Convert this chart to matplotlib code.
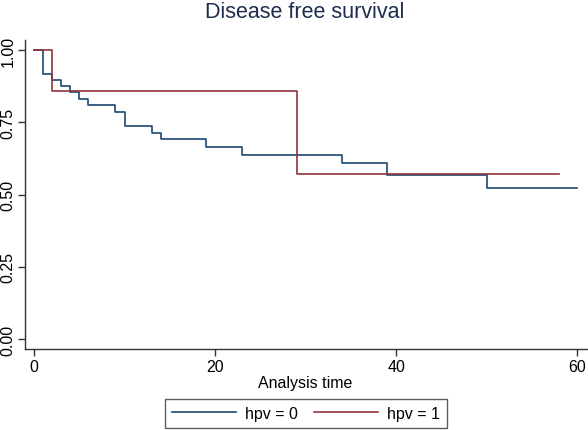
import matplotlib
matplotlib.use("Agg")
import matplotlib.pyplot as plt

plt.rcParams['font.family'] = ['Liberation Sans', 'DejaVu Sans']

# hpv = 0 : step change times and survival after each change
t0 = [0, 1, 2, 3, 4, 5, 6, 9, 10, 13, 14, 19, 23, 34, 39, 50, 60]
s0 = [1.0, 0.918, 0.896, 0.876, 0.854, 0.830, 0.810, 0.787, 0.738, 0.713,
      0.692, 0.665, 0.638, 0.608, 0.569, 0.524, 0.524]
# hpv = 1
t1 = [0, 2, 29, 58]
s1 = [1.0, 0.857, 0.571, 0.571]

xticks = [0, 20, 40, 60]
yticks = [0.00, 0.25, 0.50, 0.75, 1.00]
ytick_labels = ["0.00", "0.25", "0.50", "0.75", "1.00"]
labels = ["hpv = 0", "hpv = 1"]
title = "Disease free survival"
xlabel = "Analysis time"

c_blue = "#1a476f"
c_red = "#90353b"

W, H = 588, 431
left_px, bottom_px, top_px = 25, 349.5, 41
fig = plt.figure(figsize=(W/100, H/100), dpi=100)
ax = fig.add_axes([left_px/W, 1-bottom_px/H, 1-left_px/W, (bottom_px-top_px)/H])

l0, = ax.step(t0, s0, where="post", color=c_blue, lw=1.2)
l1, = ax.step(t1, s1, where="post", color=c_red, lw=1.2)

ax.set_xlim(-0.99, 61.18)
ax.set_ylim(-0.033, 1.035)
ax.set_xticks(xticks)
ax.set_yticks(yticks)
ax.set_yticklabels(ytick_labels, rotation=90, va="center")
ax.tick_params(axis="both", labelsize=11.5, color="#333333", length=5, width=1, labelcolor="black")
ax.tick_params(axis="y", pad=2)
ax.tick_params(axis="x", pad=2.5)
ax.spines["top"].set_visible(False)
ax.spines["right"].set_visible(False)
for s in ["left", "bottom"]:
    ax.spines[s].set_color("#333333")
    ax.spines[s].set_linewidth(1.0)

fig.text(305/W, 1-13/H, title, ha="center", va="center", fontsize=15.5, color="#1e2d4f")
fig.text(305/W, 1-384/H, xlabel, ha="center", va="center", fontsize=11.5, color="black")

leg = fig.legend([l0, l1], labels, loc="center", bbox_to_anchor=(306/W, 1-414.5/H),
                 ncol=2, frameon=True, fancybox=False, edgecolor="#333333",
                 fontsize=11.5, handlelength=4.0, columnspacing=1.0, borderpad=0.45,
                 handletextpad=0.55)
leg.get_frame().set_linewidth(1.0)

fig.savefig("out.png", dpi=100, facecolor="white")
